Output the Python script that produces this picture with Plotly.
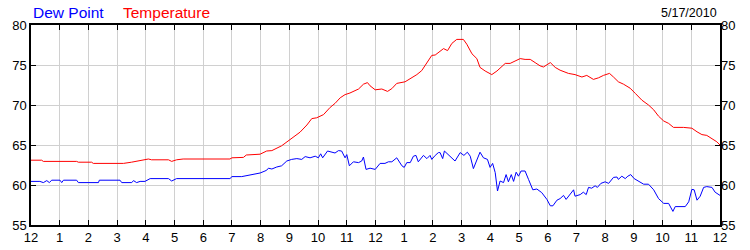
import plotly.graph_objects as go

# Hours since midnight (0..24) and readings
temp_hours = [0, 0.37, 0.43, 1.59, 1.65, 2.11, 2.17, 3.22, 3.5, 3.8, 4.09, 4.2, 4.79, 4.9, 5.07, 5.3,
              6.93, 7.0, 7.4, 7.5, 7.98, 8.21, 8.39, 8.73, 8.91, 9.14, 9.37, 9.61, 9.78, 9.95, 10.19,
              10.42, 10.59, 10.77, 10.94, 11.11, 11.41, 11.58, 11.72, 11.81, 11.99, 12.22, 12.42, 12.57,
              12.74, 13.03, 13.21, 13.44, 13.61, 13.79, 13.96, 14.08, 14.25, 14.37, 14.51, 14.66, 14.83,
              15.06, 15.18, 15.36, 15.53, 15.64, 15.82, 16.05, 16.23, 16.52, 16.69, 16.86, 17.04, 17.21,
              17.39, 17.56, 17.73, 17.85, 18.09, 18.26, 18.43, 18.72, 18.95, 19.19, 19.36, 19.59, 19.77,
              19.94, 20.15, 20.29, 20.46, 20.64, 20.87, 21.05, 21.28, 21.51, 21.69, 21.86, 22.04, 22.21,
              22.38, 22.73, 23.02, 23.2, 23.37, 23.54, 23.72, 23.89, 24.0]
temperature = [63.1, 63.1, 62.95, 62.95, 62.85, 62.85, 62.7, 62.7, 62.85, 63.1, 63.25, 63.15, 63.15, 62.95, 63.15, 63.25,
               63.25, 63.4, 63.45, 63.75, 63.85, 64.25, 64.3, 64.9, 65.4, 66.0, 66.6, 67.5, 68.3, 68.4, 68.8,
               69.7, 70.2, 70.9, 71.3, 71.5, 72.0, 72.6, 72.8, 72.4, 71.9, 72.0, 71.7, 72.05,
               72.7, 72.9, 73.3, 73.8, 74.3, 75.3, 76.2, 76.25, 76.7, 77.05, 76.8, 77.7, 78.2,
               78.2, 77.6, 76.4, 75.8, 74.7, 74.25, 73.8, 74.25, 75.2, 75.2, 75.5, 75.8, 75.7,
               75.7, 75.3, 74.9, 74.75, 75.3, 74.7, 74.35, 73.95, 73.8, 73.5, 73.7, 73.2, 73.4,
               73.7, 73.95, 73.5, 72.9, 72.6, 72.1, 71.45, 70.6, 70.0, 69.4, 68.6, 68.0, 67.7,
               67.2, 67.2, 67.1, 66.65, 66.3, 66.2, 65.8, 65.4, 65.0]

dew_hours = [0, 0.31, 0.43, 0.55, 0.64, 0.72, 1.01, 1.07, 1.13, 1.59, 1.65, 2.35, 2.38, 3.1, 3.16, 3.51,
             3.57, 3.68, 3.8, 3.97, 4.15, 4.79, 4.9, 5.07, 6.93, 7.0, 7.34, 7.52, 7.75, 7.98, 8.15, 8.21,
             8.27, 8.39, 8.56, 8.73, 8.91, 9.08, 9.26, 9.43, 9.55, 9.72, 9.9, 10.01, 10.09, 10.16, 10.33,
             10.48, 10.59, 10.71, 10.82, 10.94, 11.0, 11.09, 11.23, 11.41, 11.52, 11.58, 11.67, 11.81,
             11.99, 12.16, 12.33, 12.45, 12.57, 12.74, 12.92, 13.0, 13.09, 13.21, 13.32, 13.41, 13.49,
             13.67, 13.79, 13.9, 13.96, 14.08, 14.19, 14.25, 14.34, 14.4, 14.54, 14.77, 14.95, 15.08,
             15.2, 15.3, 15.41, 15.53, 15.64, 15.76, 15.9, 15.99, 16.08, 16.17, 16.25, 16.34, 16.46,
             16.55, 16.63, 16.73, 16.81, 16.9, 16.98, 17.07, 17.21, 17.33, 17.48, 17.62, 17.79, 17.97,
             18.09, 18.18, 18.32, 18.43, 18.55, 18.64, 18.76, 18.9, 18.95, 19.13, 19.24, 19.34, 19.42,
             19.53, 19.65, 19.73, 19.85, 20.0, 20.12, 20.29, 20.41, 20.46, 20.58, 20.7, 20.79, 20.89,
             21.01, 21.16, 21.34, 21.51, 21.69, 21.86, 22.04, 22.21, 22.36, 22.44, 22.79, 22.91, 23.02,
             23.1, 23.2, 23.31, 23.43, 23.54, 23.72, 23.83, 24.0]
dew_point = [60.45, 60.45, 60.3, 60.55, 60.3, 60.6, 60.6, 60.3, 60.6, 60.6, 60.3, 60.3, 60.6, 60.6, 60.3, 60.3,
             60.55, 60.3, 60.45, 60.45, 60.8, 60.8, 60.5, 60.8, 60.8, 61.05, 61.05, 61.15, 61.3, 61.5, 61.75, 61.85,
             62.1, 62.0, 62.25, 62.4, 63.0, 63.2, 63.3, 63.2, 63.55, 63.4, 63.6, 63.4, 63.9, 63.4, 64.25,
             64.1, 64.0, 64.3, 64.25, 63.4, 63.8, 62.4, 62.9, 62.8, 63.0, 63.5, 61.95, 62.1,
             61.95, 62.7, 62.7, 62.9, 62.9, 63.4, 62.4, 62.2, 62.8, 62.8, 63.6, 63.7, 62.9,
             63.7, 63.3, 63.7, 63.2, 63.7, 64.05, 64.05, 63.3, 64.25, 63.8, 63.0, 64.05, 63.7,
             64.1, 63.6, 62.05, 63.0, 64.1, 63.4, 63.2, 62.2, 62.7, 61.55, 59.25, 60.5, 60.3,
             61.3, 60.4, 61.3, 60.45, 61.6, 61.1, 61.75, 61.75, 60.7, 59.4, 59.5, 59.05, 58.2,
             57.4, 57.4, 58.1, 58.3, 58.7, 58.2, 58.8, 59.4, 58.6, 58.8, 59.1, 58.8, 59.7,
             59.6, 59.9, 59.7, 60.2, 60.4, 60.2, 60.95, 61.0, 60.7, 61.1, 60.8, 61.1, 61.3,
             60.8, 60.5, 60.1, 60.1, 59.4, 58.3, 57.7, 57.7, 56.7, 57.3, 57.3, 57.9, 59.45,
             59.4, 58.1, 58.6, 59.7, 59.8, 59.7, 59.1, 58.7]

x_tick_vals = list(range(0, 25))
x_tick_text = ["12", "1", "2", "3", "4", "5", "6", "7", "8", "9", "10", "11",
               "12", "1", "2", "3", "4", "5", "6", "7", "8", "9", "10", "11", "12"]
y_tick_vals = [55, 60, 65, 70, 75, 80]
series_names = ["Dew Point", "Temperature"]
date_label = "5/17/2010"

FONT = "Liberation Sans, Arial, sans-serif"
W, H = 750, 250
ML, MR, MT, MB = 31, 30, 25, 25
PW, PH = W - ML - MR, H - MT - MB

fig = go.Figure()
fig.add_trace(go.Scatter(x=dew_hours, y=dew_point, mode="lines",
                         line=dict(color="#0000ff", width=1), name=series_names[0]))
fig.add_trace(go.Scatter(x=temp_hours, y=temperature, mode="lines",
                         line=dict(color="#ff0000", width=1), name=series_names[1]))
fig.add_trace(go.Scatter(x=[None], y=[None], yaxis="y2", showlegend=False, hoverinfo="skip"))

axis_common = dict(showline=True, linecolor="black", linewidth=1.5, ticks="inside", ticklen=5,
                   tickcolor="black", tickwidth=1, gridcolor="#d0d0d0", gridwidth=1,
                   tickfont=dict(family=FONT, size=13, color="black"), zeroline=False,
                   automargin=False)

fig.update_layout(
    width=W, height=H,
    margin=dict(l=ML, r=MR, t=MT, b=MB, pad=0, autoexpand=False),
    paper_bgcolor="white", plot_bgcolor="white",
    showlegend=False,
    xaxis=dict(range=[0, 24], tickmode="array", tickvals=x_tick_vals, ticktext=x_tick_text,
               mirror="ticks", showgrid=True, **axis_common),
    yaxis=dict(range=[55, 80], tickmode="array", tickvals=y_tick_vals, mirror="ticks",
               showgrid=True, **axis_common),
    yaxis2=dict(range=[55, 80], tickmode="array", tickvals=y_tick_vals, overlaying="y", side="right",
                anchor="x", showgrid=False, showline=False, ticks="inside", ticklen=5, tickcolor="black",
                tickfont=dict(family=FONT, size=13, color="black"), zeroline=False, automargin=False),
    annotations=[
        dict(text=series_names[0], x=(31 - ML) / PW, y=(H - MB - 12) / PH,
             xref="paper", yref="paper", xanchor="left", yanchor="middle", showarrow=False,
             font=dict(family=FONT, size=15.5, color="#0000ff")),
        dict(text=series_names[1], x=(121 - ML) / PW, y=(H - MB - 12) / PH,
             xref="paper", yref="paper", xanchor="left", yanchor="middle", showarrow=False,
             font=dict(family=FONT, size=15.5, color="#ff0000")),
        dict(text=date_label, x=(719 - ML) / PW, y=(H - MB - 12.5) / PH,
             xref="paper", yref="paper", xanchor="right", yanchor="middle", showarrow=False,
             font=dict(family=FONT, size=12.5, color="black")),
    ],
)

fig.write_html("out.html")
